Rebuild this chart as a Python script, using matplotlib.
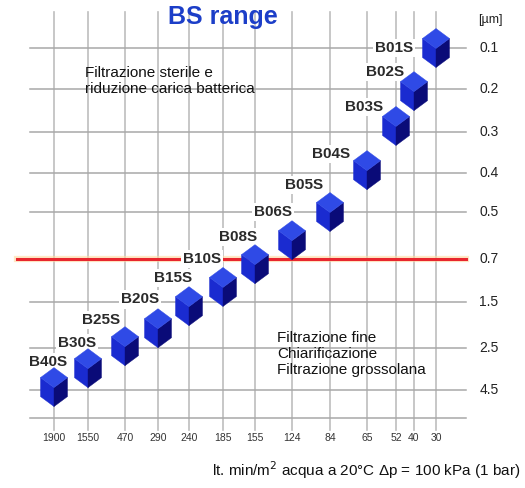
import numpy as np
import matplotlib
matplotlib.use("Agg")
import matplotlib.pyplot as plt
from matplotlib.collections import PolyCollection
from matplotlib.transforms import IdentityTransform

# ---------------- data ----------------
flows = ["1900", "1550", "470", "290", "240", "185", "155", "124", "84", "65", "52", "40", "30"]
pore_labels = ["0.1", "0.2", "0.3", "0.4", "0.5", "0.7", "1.5", "2.5", "4.5", ""]
filters = ["B01S", "B02S", "B03S", "B04S", "B05S", "B06S", "B08S", "B10S",
           "B15S", "B20S", "B25S", "B30S", "B40S"]
filter_flow = ["30", "40", "52", "65", "84", "124", "155", "185", "240", "290", "470", "1550", "1900"]
filter_level = [0.0, 1.05, 1.86, 2.93, 4.0, 4.6, 5.12, 5.65, 6.09, 6.57, 6.96, 7.48, 7.93]
red_level = 5  # 0.7 µm boundary

# ---------------- layout (pixels) ----------------
W, H = 525, 488
col_x = [54, 88, 125, 158, 189, 223, 255, 292, 330, 367, 396, 414, 436]
row_y = [48, 89, 132, 173, 212, 259, 302, 348, 390, 418]
label_dx = [-23, -10, -13, -17, -7, 0, 2, -2, 3, 1, -5, 8, 13]
label_dy = [0, -19, -19, -16, -27, -28, -27, -28, -28, -29, -26, -25, -25]

FONT = "Liberation Sans"
fig = plt.figure(figsize=(W / 100, H / 100), dpi=100)
ax = fig.add_axes([0, 0, 1, 1])
ax.set_xlim(0, W)
ax.set_ylim(H, 0)
ax.axis("off")

def ypos(level):
    return np.interp(level, np.arange(len(row_y)), row_y)

# grid
for x in col_x:
    ax.plot([x, x], [12, 430], color="#bdbdbd", lw=1.2, zorder=1)
for i, y in enumerate(row_y):
    if i == red_level:
        continue
    ax.plot([30, 466], [y, y], color="#a8a8a8", lw=1.1, zorder=1)
ry = ypos(red_level)
ax.plot([17, 466], [ry, ry], color="#ffd9a0", lw=4.5, alpha=0.6, zorder=2)
ax.plot([17, 466], [ry, ry], color="#e8262e", lw=2.2, zorder=2)

# right axis labels
ax.text(490, 20, "[µm]", fontsize=9, family=FONT, ha="center", va="center", color="#222")
for lab, y in zip(pore_labels, row_y):
    if lab:
        ax.text(489, y, lab, fontsize=10, family=FONT, ha="center", va="center", color="#222")

# bottom tick labels
for f, x in zip(flows, col_x):
    ax.text(x, 438, f, fontsize=7.5, family=FONT, ha="center", va="center", color="#333")

# cubes
w, h, s = 13.5, 10, 19
c = s / 2
top = [(0, c + h), (-w, c), (0, c - h), (w, c)]
left = [(-w, c), (0, c - h), (0, -c - h), (-w, -c)]
right = [(w, c), (0, c - h), (0, -c - h), (w, -c)]
cx = [col_x[flows.index(f)] for f in filter_flow]
cy = list(ypos(np.array(filter_level)))
offs = np.column_stack([cx, cy])
for face, col in [(left, "#1a2bd0"), (right, "#0a0b78"), (top, "#2f4ae6")]:
    pc = PolyCollection([face] * len(offs), offsets=offs, offset_transform=ax.transData,
                        transform=IdentityTransform(), facecolors=col, edgecolors=col,
                        linewidths=0.3, zorder=5)
    ax.add_collection(pc)

# cube labels
for name, x, y, dx, dy in zip(filters, cx, cy, label_dx, label_dy):
    ax.text(x + dx, y + dy, name, fontsize=11, family=FONT, weight="bold",
            ha="right", va="center", color="#2a2a2a", zorder=4,
            bbox=dict(boxstyle="square,pad=0.15", fc="white", ec="none"))

# texts
ax.text(223, 17, "BS range", fontsize=18, family=FONT, weight="bold",
        ha="center", va="center", color="#1c3ec8")
ax.text(85, 81, "Filtrazione sterile e\nriduzione carica batterica", fontsize=11,
        family=FONT, ha="left", va="center", color="#111", linespacing=1.12, zorder=3)
ax.text(277, 354, "Filtrazione fine\nChiarificazione\nFiltrazione grossolana", fontsize=11,
        family=FONT, ha="left", va="center", color="#111", linespacing=1.2, zorder=3)
ax.text(366, 470, "lt. min/m$^2$ acqua a 20°C Δp = 100 kPa (1 bar)", fontsize=11,
        family=FONT, ha="center", va="center", color="#111")

fig.savefig("out.png", dpi=100)
